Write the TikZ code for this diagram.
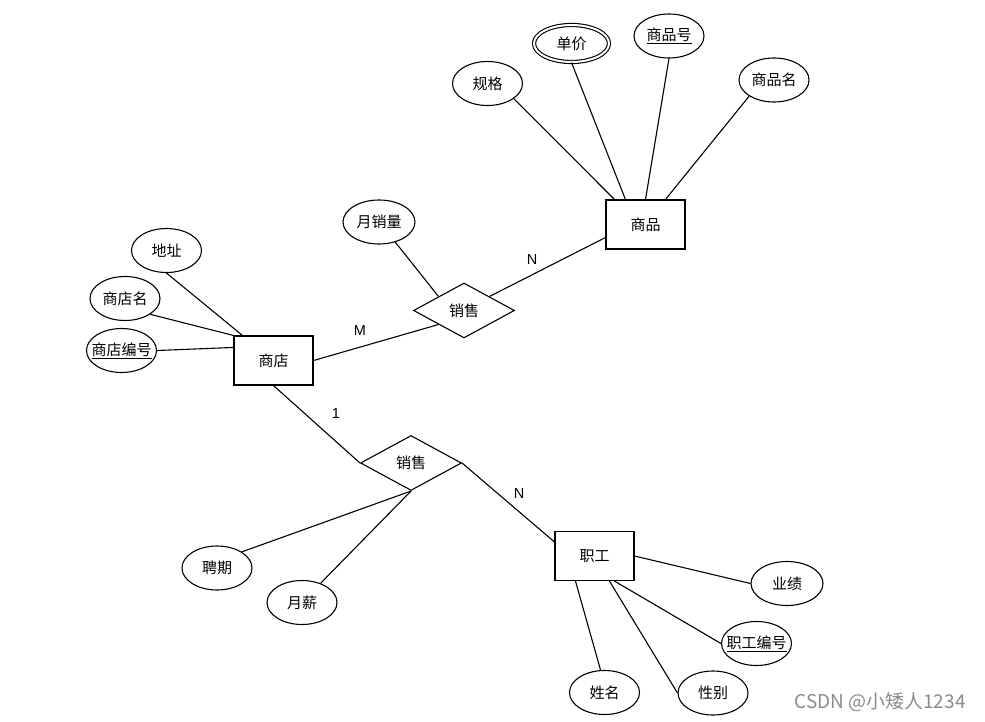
\documentclass[tikz,border=0pt]{standalone}
\usepackage{fontspec}
\setmainfont{Liberation Sans}
\newfontfamily\cjk{Noto Sans CJK SC}
\usetikzlibrary{shapes.geometric}
\newcommand{\attrtext}[1]{\makebox[0pt]{#1}}
\tikzset{
  entity/.style={draw, rectangle, inner sep=0pt, minimum width=79pt, minimum height=49pt, font=\cjk\fontsize{15}{17}\selectfont},
  relation/.style={draw, diamond, inner sep=0pt, minimum width=101pt, minimum height=55pt, font=\cjk\fontsize{15}{17}\selectfont},
  attr/.style={draw, ellipse, inner sep=0pt, minimum width=70pt, minimum height=44pt, font=\cjk\fontsize{15}{17}\selectfont},
  card/.style={font=\fontsize{14.5}{16}\selectfont},
}
\begin{document}
\begin{tikzpicture}[x=1pt, y=-1pt, line width=1.1pt]
    \useasboundingbox[fill=white] (0,0) rectangle (985,722);
    \node[entity] (sp) at (645.5,224.5) {商品};
    \node[entity] (sd) at (273.5,360.5) {商店};
    \node[entity] (zg) at (594.5,556) {职工};
    \node[relation] (xs1) at (464,310.5) {销售};
    \node[relation] (xs2) at (411,463) {销售};
    \node[attr] (gg) at (487.5,83.5) {\attrtext{规格}};
    \node[attr, double, double distance=2pt, minimum width=75pt, minimum height=37pt] (dj) at (571.5,43.5) {\attrtext{单价}};
    \node[attr] (sph) at (669,36) {\attrtext{\underline{商品号}}};
    \node[attr] (spm) at (774,80) {\attrtext{商品名}};
    \node[attr] (dz) at (166.5,250.5) {\attrtext{地址}};
    \node[attr] (sdm) at (125,298.5) {\attrtext{商店名}};
    \node[attr] (sdbh) at (121.5,350.5) {\attrtext{\underline{商店编号}}};
    \node[attr, minimum width=72pt] (yxl) at (379,222) {\attrtext{月销量}};
    \node[attr] (pq) at (217,568) {\attrtext{聘期}};
    \node[attr] (yx) at (302,602.5) {\attrtext{月薪}};
    \node[attr, minimum width=72pt] (yj) at (787,583.5) {\attrtext{业绩}};
    \node[attr] (zgbh) at (756.5,643.5) {\attrtext{\underline{职工编号}}};
    \node[attr] (xm) at (604.5,692.5) {\attrtext{姓名}};
    \node[attr] (xb) at (713,693) {\attrtext{性别}};
    \draw (gg.-30) -- ([xshift=9pt]sp.north west);
    \draw (dj.south) -- ([xshift=20pt]sp.north west);
    \draw (sph.south) -- (sp.north);
    \draw (spm.-147) -- ([xshift=60pt]sp.north west);
    \draw (xs1.north east) -- ([yshift=-13pt]sp.west);
    \draw (yxl.-51) -- (xs1.north west);
    \draw (sd.east) -- (xs1.south west);
    \draw (dz.south) -- ([xshift=9pt]sd.north west);
    \draw (sdm.-32) -- (sd.north west);
    \draw (sdbh.east) -- ([yshift=-12pt]sd.north west);
    \draw (sd.south) -- (xs2.west);
    \draw (xs2.east) -- ([yshift=-11pt]zg.north west);
    \draw (pq.33) -- (xs2.south);
    \draw (yx.46) -- (xs2.south);
    \draw (zg.east) -- (yj.west);
    \draw ([xshift=60pt]zg.south west) -- (zgbh.west);
    \draw ([xshift=55pt]zg.south west) -- (xb.west);
    \draw ([xshift=21pt]zg.south west) -- (xm.100);
    \node[card] (lm) at (360,331) {M};
    \node[card] (ln1) at (532,260) {N};
    \node[card] (l1) at (336,414) {1};
    \node[card] (ln2) at (519,494) {N};
    \node[text=black!45, font=\cjk\fontsize{19}{21}\selectfont] (wm) at (880,702) {CSDN @小矮人1234};
\end{tikzpicture}
\end{document}
